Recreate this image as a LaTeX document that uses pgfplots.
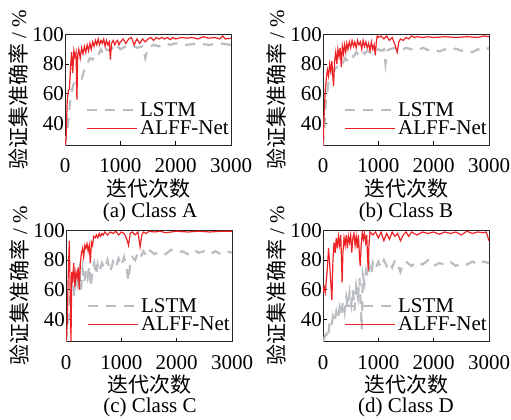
\documentclass[border=0pt]{standalone}
\usepackage{fontspec}
\setmainfont{Liberation Serif}
\newfontfamily\cjk{Noto Sans CJK SC}
\usepackage{pgfplots}
\pgfplotsset{compat=1.18}
\definecolor{lstmgray}{RGB}{186,189,194}
\definecolor{alffred}{RGB}{236,34,36}
\newcommand{\bigfont}{\fontsize{21}{23}\selectfont}
\pgfplotsset{
  legend image code/.code={\draw (0pt,0pt) -- (50pt,0pt);},
  accplot/.style={
    scale only axis, width=166pt, height=111pt,
    xmin=0, xmax=3000, ymin=25, ymax=100,
    xtick={0,1000,2000,3000}, ytick={40,60,80,100},
    tick align=inside, xtick pos=bottom, ytick pos=left, major tick length=4pt,
    tick style={black, line width=0.6pt},
    axis line style={black!85, line width=0.8pt},
    scaled x ticks=false,
    /pgf/number format/1000 sep={},
    /pgf/number format/assume math mode=true,
    ticklabel style={font=\bigfont},
    xticklabel style={yshift=-10pt},
    yticklabel style={inner xsep=1pt},
    label style={font=\bigfont},
    xlabel style={yshift=1pt},
    xlabel={\cjk 迭代次数},
    ylabel={{\cjk 验证集准确率} / \%},
    legend style={draw=none, fill=none, font=\bigfont, at={(1,0)}, anchor=south east,
      inner sep=0pt, row sep=-1pt, yshift=7pt, cells={anchor=west}},
  }
}
\begin{document}
\begin{tikzpicture}
\path[use as bounding box] (0pt,0pt) rectangle (511pt,-420pt);

% (a)
\begin{axis}[accplot, at={(65pt,-34.5pt)}, anchor=north west]
\addplot[color=lstmgray, line width=2.2pt, dash pattern=on 10pt off 8pt] coordinates {(0,25)(50,38)(100,57)(150,66)(200,69)(250,70)(300,70)(350,76)(400,80)(450,84)(500,83)(550,87)(600,86)(650,90)(700,86)(750,90)(800,89)(850,91)(900,89)(950,92)(1000,90)(1100,92)(1200,93)(1300,91)(1400,92)(1450,84)(1500,91)(1600,93)(1700,92)(1800,94)(1900,93)(2000,94)(2200,93)(2400,94)(2600,93)(2800,94)(3000,93)};
\addlegendentry{LSTM}
\addplot[color=alffred, line width=1.2pt] coordinates {(0,25)(20,30)(40,55)(60,62)(80,63)(100,78)(120,88)(140,74)(160,89)(180,85)(200,88)(215,56)(230,86)(250,90)(275,84)(300,91)(325,87)(350,92)(375,88)(400,93)(425,89)(450,94)(475,90)(500,95)(525,92)(550,96)(575,93)(600,97)(625,93)(650,96)(675,94)(700,97)(725,92)(750,96)(775,93)(800,95)(820,83)(840,94)(870,96)(900,93)(925,95)(950,96)(975,93)(1000,95)(1050,97)(1100,94)(1150,97)(1200,98)(1250,93)(1300,97)(1350,94)(1400,97)(1450,95)(1500,97)(1550,98)(1600,96)(1650,98)(1700,97)(1750,98)(1800,97)(1850,98)(1900,96.5)(1950,98)(2000,97)(2100,98)(2200,97.5)(2300,98)(2400,97)(2500,98.5)(2600,97.5)(2700,98)(2800,97)(2850,99)(2900,97)(3000,97.5)};
\addlegendentry{ALFF-Net}
\end{axis}

% (b)
\begin{axis}[accplot, at={(323pt,-34.5pt)}, anchor=north west]
\addplot[color=lstmgray, line width=2.2pt, dash pattern=on 10pt off 8pt] coordinates {(0,25)(30,40)(50,55)(80,62)(100,68)(150,72)(200,76)(250,78)(300,81)(350,80)(400,84)(450,82)(500,86)(550,85)(600,88)(650,86)(700,89)(750,87)(800,89)(850,88)(900,90)(950,89)(1000,90)(1050,89)(1100,90)(1130,80)(1160,89)(1200,90)(1300,91)(1400,89)(1500,91)(1600,90)(1700,89)(1800,91)(1900,89.5)(2000,90)(2100,88.5)(2200,90)(2300,89)(2400,90.5)(2500,89)(2600,90)(2700,88)(2800,90)(2900,89)(3000,91)};
\addlegendentry{LSTM}
\addplot[color=alffred, line width=1.2pt] coordinates {(0,25)(20,45)(40,62)(60,70)(80,76)(100,72)(120,80)(140,75)(160,82)(180,70)(190,65)(210,82)(230,88)(250,80)(270,90)(290,85)(310,91)(330,78)(350,92)(370,87)(390,93)(410,88)(430,94)(450,90)(475,95)(500,91)(525,96)(550,92)(575,95)(600,91)(625,96)(650,93)(675,95)(700,90)(725,96)(750,92)(775,95)(800,91)(825,94)(850,89)(875,95)(900,90)(925,93)(945,86)(965,95)(980,99)(1000,98)(1050,99)(1100,97)(1150,99)(1200,96)(1250,98)(1300,93)(1340,88)(1370,95)(1400,97)(1450,96)(1500,98)(1550,97)(1600,99)(1650,98)(1700,98.5)(1800,98)(1900,98.5)(2000,98)(2200,98.5)(2400,98)(2600,98.5)(2800,98)(2900,99)(3000,98.5)};
\addlegendentry{ALFF-Net}
\end{axis}

% (c)
\begin{axis}[accplot, at={(66pt,-230.5pt)}, anchor=north west]
\addplot[color=lstmgray, line width=2.2pt, dash pattern=on 10pt off 8pt] coordinates {(0,25)(30,35)(60,50)(90,62)(120,68)(150,55)(180,70)(210,64)(240,72)(270,60)(300,74)(330,65)(360,73)(390,68)(420,76)(450,62)(480,74)(510,78)(540,70)(570,77)(600,72)(650,78)(700,74)(750,80)(800,72)(850,79)(900,75)(950,81)(1000,76)(1050,82)(1100,73)(1130,66)(1160,78)(1200,82)(1250,80)(1300,85)(1350,82)(1400,86)(1450,83)(1500,87)(1600,84)(1700,86)(1800,84)(1900,87)(2000,85)(2100,86)(2200,84)(2300,87)(2400,85)(2500,86)(2600,84)(2700,86)(2800,84)(2900,86)(3000,85)};
\addlegendentry{LSTM}
\addplot[color=alffred, line width=1.2pt] coordinates {(0,25)(20,35)(40,70)(60,93)(75,60)(90,25)(105,72)(120,65)(140,78)(160,62)(180,72)(200,68)(220,75)(240,60)(260,78)(280,85)(300,88)(320,82)(340,90)(360,88)(380,91)(400,86)(420,90)(440,78)(460,92)(480,90)(500,96)(525,95)(550,97)(575,95)(600,98)(625,96)(650,98)(675,97)(700,99)(750,97)(800,99)(850,98)(900,99.5)(950,97)(1000,99)(1050,98)(1100,94)(1130,90)(1160,98)(1200,99)(1250,97)(1300,99)(1340,89)(1370,97)(1400,99)(1450,98)(1500,99.5)(1600,99)(1700,99.5)(1800,98.5)(1900,99)(2000,99.5)(2200,99)(2400,99.5)(2600,99)(2800,99.5)(3000,99.5)};
\addlegendentry{ALFF-Net}
\end{axis}

% (d)
\begin{axis}[accplot, at={(323pt,-230.5pt)}, anchor=north west]
\addplot[color=lstmgray, line width=2.2pt, dash pattern=on 10pt off 8pt] coordinates {(0,25)(30,28)(60,30)(90,27)(120,38)(150,35)(180,42)(210,38)(240,45)(270,40)(300,48)(330,43)(360,52)(390,45)(420,55)(450,48)(480,58)(510,50)(540,60)(570,46)(600,62)(630,55)(660,68)(700,33)(720,70)(750,64)(780,73)(810,68)(840,76)(870,70)(900,78)(950,74)(1000,79)(1050,75)(1100,80)(1150,76)(1200,79)(1250,75)(1300,80)(1350,77)(1400,72)(1450,78)(1500,79)(1600,76)(1700,79)(1800,77)(1900,80)(2000,76)(2100,78)(2200,77)(2300,79)(2400,76)(2500,78)(2600,77)(2700,79)(2800,77)(2900,79)(3000,78)};
\addlegendentry{LSTM}
\addplot[color=alffred, line width=1.2pt] coordinates {(0,58)(20,62)(40,58)(60,66)(80,75)(100,88)(120,78)(160,53)(180,80)(200,92)(220,85)(240,95)(260,88)(280,96)(300,90)(320,97)(335,80)(345,65)(360,85)(380,95)(400,90)(420,97)(440,88)(460,96)(480,92)(500,97)(520,85)(540,95)(560,98)(580,90)(600,96)(620,88)(640,97)(660,82)(673,76)(690,90)(710,99)(730,94)(750,98)(770,92)(790,97)(805,82)(818,73)(830,90)(850,99)(900,97)(950,99)(1000,95)(1050,99)(1100,93)(1150,98)(1200,94)(1250,99)(1300,96)(1350,98)(1400,93)(1450,97)(1500,99)(1550,96)(1600,99)(1700,97)(1800,99)(1900,98)(2000,99)(2100,97.5)(2200,99)(2300,98)(2400,99)(2500,97)(2600,99.5)(2700,98)(2800,99)(2900,98.5)(2950,99)(3000,93)};
\addlegendentry{ALFF-Net}
\end{axis}

\node[font=\bigfont] at (150pt,-212pt) {(a) Class A};
\node[font=\bigfont] at (406pt,-212pt) {(b) Class B};
\node[font=\bigfont] at (150pt,-407pt) {(c) Class C};
\node[font=\bigfont] at (406pt,-407pt) {(d) Class D};
\end{tikzpicture}
\end{document}
